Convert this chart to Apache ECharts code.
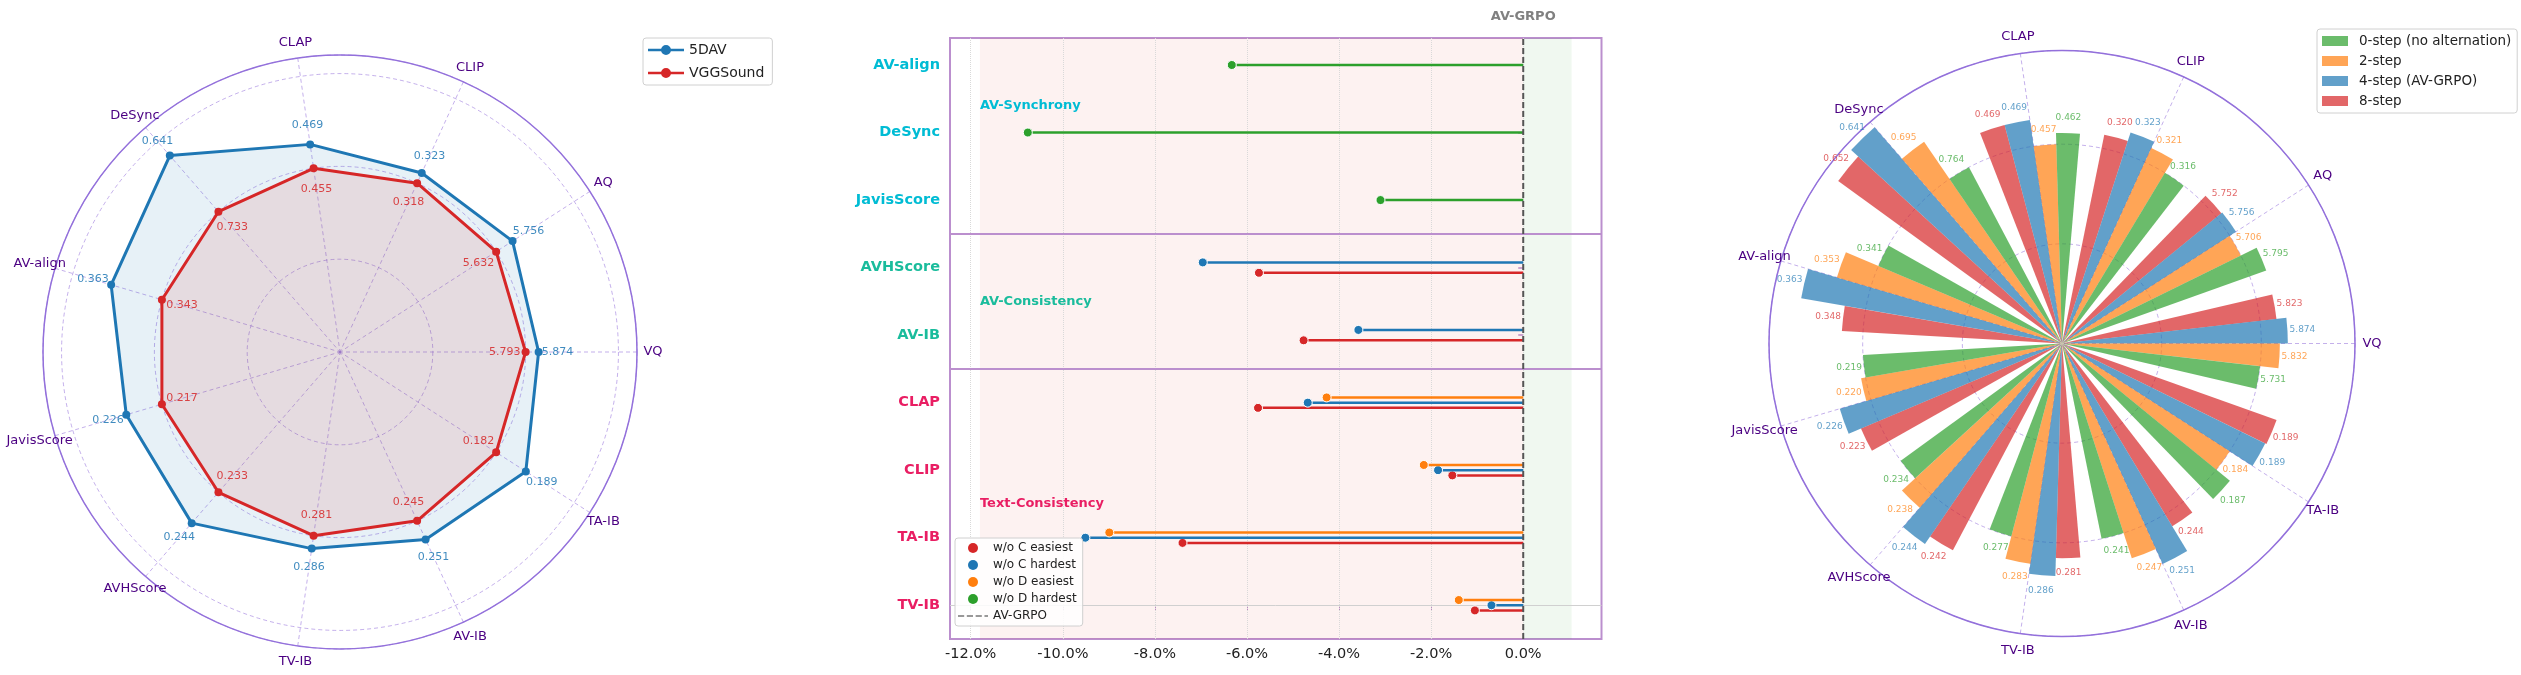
<!DOCTYPE html>
<html>
<head>
<meta charset="utf-8">
<script src="https://cdn.jsdelivr.net/npm/echarts@6/dist/echarts.min.js"></script>
<style>
html, body { margin: 0; padding: 0; background: #fff; }
#main { width: 2521px; height: 675px; }
</style>
</head>
<body>
<div id="main"></div>
<script>
var metrics = ['VQ', 'AQ', 'CLIP', 'CLAP', 'DeSync', 'AV-align', 'JavisScore', 'AVHScore', 'TV-IB', 'AV-IB', 'TA-IB'];

// left radar: printed values, and the radius each point is drawn at (VGGSound = 1.0)
var dav5Raw = [5.874, 5.756, 0.323, 0.469, 0.641, 0.363, 0.226, 0.244, 0.286, 0.251, 0.189];
var vggRaw  = [5.793, 5.632, 0.318, 0.455, 0.733, 0.343, 0.217, 0.233, 0.281, 0.245, 0.182];
var dav5R   = [1.07, 1.105, 1.06, 1.13, 1.40, 1.285, 1.20, 1.22, 1.07, 1.11, 1.19];
var vggR    = [1, 1, 1, 1, 1, 1, 1, 1, 1, 1, 1];

// middle: change vs AV-GRPO in %, rows bottom to top
var abCats = ['TV-IB', 'TA-IB', 'CLIP', 'CLAP', 'AV-IB', 'AVHScore', 'JavisScore', 'DeSync', 'AV-align'];
var abGroup = [2, 2, 2, 2, 1, 1, 0, 0, 0];
var groupNames = ['AV-Synchrony', 'AV-Consistency', 'Text-Consistency'];
var groupColors = ['#00bcd4', '#1abc9c', '#e91e63'];
var groupLabelY = [7.4, 4.5, 1.5];
var ablNames = ['w/o C easiest', 'w/o C hardest', 'w/o D easiest', 'w/o D hardest'];
var ablColors = ['#d62728', '#1f77b4', '#ff7f0e', '#2ca02c'];
var woCEasiest = [-1.05, -7.40, -1.54, -5.76, -4.77, -5.74, null, null, null];
var woCHardest = [-0.69, -9.51, -1.85, -4.68, -3.58, -6.96, null, null, null];
var woDEasiest = [-1.40, -8.99, -2.16, -4.27, null, null, null, null, null];
var woDHardest = [null, null, null, null, null, null, -3.10, -10.76, -6.33];
var xTicks = [-12, -10, -8, -6, -4, -2, 0];
var lossBand = [-11.8, 0];
var gainBand = [0, 1.05];

// right: printed values, and the bar length drawn (worst per metric = 1.0)
var stepNames = ['0-step (no alternation)', '2-step', '4-step (AV-GRPO)', '8-step'];
var stepColors = ['#2ca02c', '#ff7f0e', '#1f77b4', '#d62728'];
var step0Raw = [5.731, 5.795, 0.316, 0.462, 0.764, 0.341, 0.219, 0.234, 0.277, 0.241, 0.187];
var step2Raw = [5.832, 5.706, 0.321, 0.457, 0.695, 0.353, 0.220, 0.238, 0.283, 0.247, 0.184];
var step4Raw = [5.874, 5.756, 0.323, 0.469, 0.641, 0.363, 0.226, 0.244, 0.286, 0.251, 0.189];
var step8Raw = [5.823, 5.752, 0.320, 0.469, 0.652, 0.348, 0.223, 0.242, 0.281, 0.244, 0.189];
var step0R = [1.0, 1.088, 1.0, 1.056, 1.0, 1.0, 1.0, 1.0, 1.0, 1.0, 1.088];
var step2R = [1.093, 1.0, 1.078, 1.0, 1.226, 1.177, 1.023, 1.09, 1.116, 1.133, 1.0];
var step4R = [1.133, 1.038, 1.113, 1.133, 1.436, 1.328, 1.162, 1.218, 1.167, 1.216, 1.136];
var step8R = [1.083, 1.033, 1.068, 1.133, 1.388, 1.106, 1.095, 1.173, 1.077, 1.071, 1.143];

var purple = '#9370db';
var gridPurple = 'rgba(147,112,219,0.55)';
var nameColor = '#4b0082';
var boxColor = '#bb8fce';

var chart = echarts.init(document.getElementById('main'));

function angleOf(i) { return i * 360 / metrics.length; }

// metric names on their own ring just outside each polar panel
function rimNames(polarIndex) {
  return {
    type: 'scatter', name: 'names' + polarIndex, coordinateSystem: 'polar', polarIndex: polarIndex,
    symbolSize: 0, silent: true, z: 5, itemStyle: { opacity: 1 },
    data: metrics.map(function (m, i) { return { name: m, value: [1, angleOf(i)] }; }),
    label: { show: true, position: 'inside', formatter: '{b}', fontSize: 13, color: nameColor }
  };
}
function hiddenAngle(polarIndex) {
  return { polarIndex: polarIndex, type: 'value', min: 0, max: 360, startAngle: 0, clockwise: false,
    axisLine: { show: false }, axisTick: { show: false }, axisLabel: { show: false }, splitLine: { show: false } };
}
function hiddenRadius(polarIndex) {
  return { polarIndex: polarIndex, min: 0, max: 1,
    axisLine: { show: false }, axisTick: { show: false }, axisLabel: { show: false }, splitLine: { show: false } };
}

// ---------- left radar pieces ----------
function radarLabels(name, rs, raw, shift, color) {
  return {
    type: 'scatter', name: name + ' labels', coordinateSystem: 'polar', polarIndex: 0,
    symbolSize: 0, silent: true, z: 5, itemStyle: { opacity: 1 },
    data: rs.map(function (r, i) { return [r + shift, angleOf(i)]; }),
    label: {
      show: true, position: 'inside', fontSize: 11, color: color,
      formatter: function (p) { return raw[p.dataIndex].toFixed(3); }
    }
  };
}

// ---------- middle lollipops ----------
var ablValues = [woCEasiest, woCHardest, woDEasiest, woDHardest];
var stackOrder = [2, 1, 0, 3]; // top to bottom inside a row
function rowOffset(k, i) {
  var present = stackOrder.filter(function (j) { return ablValues[j][i] != null; });
  var n = present.length;
  if (n < 2) return 0;
  return 0.077 - present.indexOf(k) * 0.154 / (n - 1);
}
function lollipop(k) {
  var data = [];
  ablValues[k].forEach(function (v, i) {
    if (v != null) data.push([v, i + rowOffset(k, i)]);
  });
  return {
    type: 'custom', name: ablNames[k], xAxisIndex: 0, yAxisIndex: 0,
    itemStyle: { color: ablColors[k] }, z: 3,
    encode: { x: 0, y: 1 },
    data: data,
    renderItem: function (params, api) {
      var p0 = api.coord([0, api.value(1)]);
      var p1 = api.coord([api.value(0), api.value(1)]);
      return {
        type: 'group',
        children: [
          { type: 'line', shape: { x1: p0[0], y1: p0[1], x2: p1[0], y2: p1[1] },
            style: { stroke: ablColors[k], lineWidth: 2.5 } },
          { type: 'circle', shape: { cx: p1[0], cy: p1[1], r: 4.5 },
            style: { fill: ablColors[k], stroke: '#fff', lineWidth: 1 } }
        ]
      };
    }
  };
}

var sepLines = [];
for (var i = 1; i < abGroup.length; i++) {
  if (abGroup[i] !== abGroup[i - 1]) sepLines.push({ yAxis: i - 0.5, lineStyle: { color: boxColor, width: 2, type: 'solid' } });
}
var bgLines = xTicks.map(function (v) { return { xAxis: v }; })
  .concat([{ yAxis: 0, lineStyle: { color: '#d0d0d0', type: 'solid', width: 1 } }])
  .concat(sepLines);

// ---------- right polar bars ----------
var stepRaw = [step0Raw, step2Raw, step4Raw, step8Raw];
var stepR = [step0R, step2R, step4R, step8R];
function stepBar(k) {
  return {
    type: 'bar', name: stepNames[k], coordinateSystem: 'polar', polarIndex: 1,
    data: stepR[k], barGap: '0%', barCategoryGap: '20%',
    itemStyle: { color: stepColors[k], opacity: 0.7 },
    label: {
      show: true, position: 'end', distance: 15, rotate: 0, align: 'center', verticalAlign: 'middle',
      fontSize: 9, color: stepColors[k],
      formatter: function (p) { return stepRaw[k][p.dataIndex].toFixed(3); }
    }
  };
}

var lineIcon = 'path://M0,3.8h36v2.4h-36z M13,5a5,5 0 1,1 10,0a5,5 0 1,1 -10,0';
var dashIcon = 'path://M0,4h7v2h-7z M10,4h7v2h-7z M20,4h7v2h-7z M30,4h4v2h-4z M0,0h0.01v10h-0.01z';

var option = {
  animation: false,
  textStyle: { fontFamily: 'DejaVu Sans' },
  legend: [
    {
      data: [{ name: '5DAV', icon: lineIcon }, { name: 'VGGSound', icon: lineIcon }],
      orient: 'vertical', left: 643, top: 38, itemWidth: 36, itemHeight: 10, itemGap: 9,
      textStyle: { fontSize: 14, color: '#222' },
      borderColor: '#d0d0d0', borderWidth: 1, borderRadius: 3, padding: [5, 8, 5, 5],
      backgroundColor: '#fff'
    },
    {
      data: ablNames.map(function (n) { return { name: n, icon: 'circle' }; })
        .concat([{ name: 'AV-GRPO', icon: dashIcon }]),
      orient: 'vertical', left: 955, top: 538, itemWidth: 30, itemHeight: 10, itemGap: 5,
      textStyle: { fontSize: 12, color: '#222' },
      borderColor: '#d0d0d0', borderWidth: 1, borderRadius: 3, padding: [4, 6, 4, 3],
      backgroundColor: 'rgba(255,255,255,0.85)'
    },
    {
      data: stepNames, icon: 'rect',
      orient: 'vertical', left: 2317, top: 29, itemWidth: 26, itemHeight: 10, itemGap: 6,
      textStyle: { fontSize: 13.5, color: '#222', padding: [0, 0, 0, 6] },
      borderColor: '#d0d0d0', borderWidth: 1, borderRadius: 3, padding: [5, 6, 5, 5],
      backgroundColor: '#fff'
    }
  ],
  radar: {
    center: [340, 352], radius: 297, startAngle: 0, shape: 'circle',
    indicator: metrics.map(function (m) { return { name: m, min: 0, max: 1.6 }; }),
    axisName: { show: false },
    splitNumber: 4,
    splitLine: { show: false }, splitArea: { show: false },
    axisLine: { show: false }, axisTick: { show: false }, axisLabel: { show: false }
  },
  polar: [
    { center: [340, 352], radius: 297 },
    { center: [2062, 343.5], radius: 293 },
    { center: [2062, 343.5], radius: 293 },
    { center: [340, 352], radius: 313 },
    { center: [2062, 343.5], radius: 310 }
  ],
  angleAxis: [
    {
      polarIndex: 0, type: 'value', min: 0, max: 360, interval: 360 / metrics.length,
      startAngle: 0, clockwise: false,
      axisLine: { lineStyle: { color: purple, width: 1.5 } },
      axisTick: { show: false }, axisLabel: { show: false },
      splitLine: { lineStyle: { color: gridPurple, type: [4, 3], width: 1 } }
    },
    {
      polarIndex: 1, type: 'category', data: metrics,
      startAngle: -180 / metrics.length, clockwise: false,
      axisLine: { show: false }, axisTick: { show: false }, splitLine: { show: false },
      axisLabel: { show: false }
    },
    {
      polarIndex: 2, type: 'value', min: 0, max: 360, interval: 360 / metrics.length,
      startAngle: 0, clockwise: false,
      axisLine: { lineStyle: { color: purple, width: 1.5 } },
      axisTick: { show: false }, axisLabel: { show: false },
      splitLine: { lineStyle: { color: gridPurple, type: [4, 3], width: 1 } }
    },
    hiddenAngle(3), hiddenAngle(4)
  ],
  radiusAxis: [
    {
      polarIndex: 0, min: 0, max: 1.6, interval: 0.5,
      axisLine: { show: false }, axisTick: { show: false }, axisLabel: { show: false },
      splitLine: { lineStyle: { color: gridPurple, type: [4, 3], width: 1 } }
    },
    {
      polarIndex: 1, min: 0, max: 1.47,
      axisLine: { show: false }, axisTick: { show: false }, axisLabel: { show: false },
      splitLine: { show: false }
    },
    {
      polarIndex: 2, min: 0, max: 1.47, interval: 0.5,
      axisLine: { show: false }, axisTick: { show: false }, axisLabel: { show: false },
      splitLine: { lineStyle: { color: gridPurple, type: [4, 3], width: 1 } }
    },
    hiddenRadius(3), hiddenRadius(4)
  ],
  grid: [{
    left: 950, top: 38, width: 651.5, height: 601,
    show: true, borderColor: boxColor, borderWidth: 2, backgroundColor: 'transparent'
  }],
  xAxis: [
    {
      gridIndex: 0, type: 'value', min: -12.45, max: 1.7,
      axisLine: { show: false }, splitLine: { show: false },
      axisTick: { show: true, customValues: xTicks, length: 5, lineStyle: { color: boxColor } },
      axisLabel: {
        customValues: xTicks, margin: 8, fontSize: 14.5, color: '#222',
        formatter: function (v) { return v.toFixed(1) + '%'; }
      }
    },
    {
      gridIndex: 0, type: 'value', position: 'top', min: -12.45, max: 1.7,
      axisLine: { show: false }, splitLine: { show: false }, axisTick: { show: false },
      axisLabel: {
        customValues: [0], margin: 15, fontSize: 13, fontWeight: 'bold', color: '#808080',
        formatter: function () { return 'AV-GRPO'; }
      }
    }
  ],
  yAxis: [{
    gridIndex: 0, type: 'value', min: -0.5, max: 8.4,
    axisLine: { show: false }, splitLine: { show: false },
    axisTick: { show: true, customValues: abCats.map(function (c, i) { return i; }), length: 5,
      lineStyle: { color: boxColor, width: 1.5 } },
    axisLabel: {
      customValues: abCats.map(function (c, i) { return i; }), margin: 10,
      formatter: function (v) { var i = Math.round(v); return '{g' + abGroup[i] + '|' + abCats[i] + '}'; },
      rich: {
        g0: { color: groupColors[0], fontWeight: 'bold', fontSize: 14.5 },
        g1: { color: groupColors[1], fontWeight: 'bold', fontSize: 14.5 },
        g2: { color: groupColors[2], fontWeight: 'bold', fontSize: 14.5 }
      }
    }
  }],
  series: [
    {
      type: 'radar', radarIndex: 0, symbol: 'circle', symbolSize: 8, z: 3,
      data: [
        { name: '5DAV', value: dav5R,
          lineStyle: { color: '#1f77b4', width: 3 }, itemStyle: { color: '#1f77b4' },
          areaStyle: { color: 'rgba(31,119,180,0.15)' } },
        { name: 'VGGSound', value: vggR,
          lineStyle: { color: '#d62728', width: 3 }, itemStyle: { color: '#d62728' },
          areaStyle: { color: 'rgba(214,39,40,0.15)' } }
      ]
    },
    radarLabels('5DAV', dav5R, dav5Raw, 0.102, 'rgba(31,119,180,0.85)'),
    radarLabels('VGGSound', vggR, vggRaw, -0.113, 'rgba(214,39,40,0.85)'),
    rimNames(3),

    {
      type: 'scatter', name: 'background', xAxisIndex: 0, yAxisIndex: 0, data: [], silent: true,
      markArea: {
        silent: true, z: 1,
        data: [
          [{ xAxis: lossBand[0], itemStyle: { color: 'rgba(231,76,60,0.07)' } }, { xAxis: lossBand[1] }],
          [{ xAxis: gainBand[0], itemStyle: { color: 'rgba(46,160,44,0.07)' } }, { xAxis: gainBand[1] }]
        ]
      },
      markLine: {
        silent: true, symbol: 'none', z: 1, label: { show: false },
        lineStyle: { color: '#d9d9d9', type: 'dotted', width: 1 },
        data: bgLines
      }
    },
    {
      type: 'line', name: 'AV-GRPO', xAxisIndex: 0, yAxisIndex: 0, z: 4,
      data: [[0, -0.5], [0, 8.4]], symbol: 'none',
      lineStyle: { type: [6, 3], color: '#555', width: 2 }, itemStyle: { color: '#999' }
    },
    lollipop(0), lollipop(1), lollipop(2), lollipop(3),
    {
      type: 'scatter', name: 'groups', xAxisIndex: 0, yAxisIndex: 0, symbolSize: 0, silent: true,
      itemStyle: { opacity: 1 },
      data: groupNames.map(function (n, g) {
        return { name: n, value: [lossBand[0], groupLabelY[g]], label: { color: groupColors[g] } };
      }),
      label: { show: true, position: 'right', distance: 0, formatter: '{b}', fontSize: 13, fontWeight: 'bold' }
    },

    // counter-clockwise order inside each metric: 0-step, 2-step, 4-step, 8-step
    stepBar(3), stepBar(2), stepBar(1), stepBar(0),
    rimNames(4)
  ]
};

chart.setOption(option);
</script>
</body>
</html>
